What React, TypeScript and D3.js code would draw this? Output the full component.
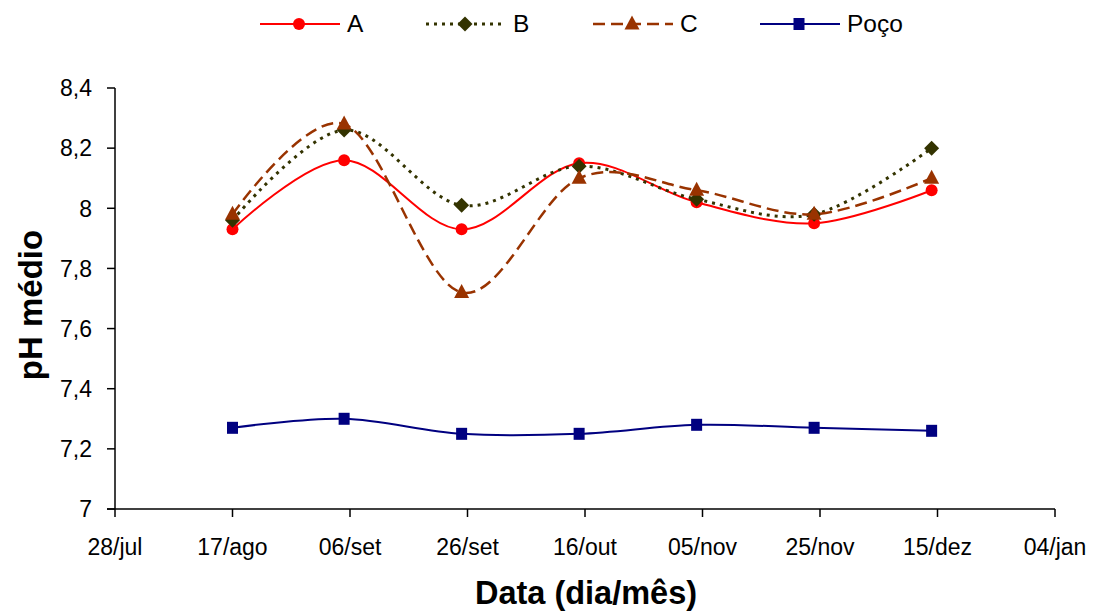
import React from "react";
import * as d3 from "d3";

const sampleDates = ["2008-08-17", "2008-09-05", "2008-09-25", "2008-10-15", "2008-11-04", "2008-11-24", "2008-12-14"];
const seriesA = [7.93, 8.16, 7.93, 8.15, 8.02, 7.95, 8.06];
const seriesB = [7.96, 8.26, 8.01, 8.14, 8.03, 7.98, 8.2];
const seriesC = [7.98, 8.28, 7.72, 8.1, 8.06, 7.98, 8.1];
const seriesPoco = [7.27, 7.3, 7.25, 7.25, 7.28, 7.27, 7.26];
const seriesNames = ["A", "B", "C", "Poço"];
const xTickDates = ["2008-07-28", "2008-08-17", "2008-09-06", "2008-09-26", "2008-10-16", "2008-11-05", "2008-11-25", "2008-12-15", "2009-01-04"];
const xTickLabels = ["28/jul", "17/ago", "06/set", "26/set", "16/out", "05/nov", "25/nov", "15/dez", "04/jan"];
const yTicks = [7, 7.2, 7.4, 7.6, 7.8, 8, 8.2, 8.4];

const W = 1093, H = 613;
const L = 115, R = 1055, T = 88, B = 509;
const FONT = "Liberation Sans, Arial, sans-serif";

const styles = [
  { color: "#FF0000", dash: "", marker: "circle", width: 2 },
  { color: "#333300", dash: "3,5", marker: "diamond", width: 3 },
  { color: "#993300", dash: "12,6", marker: "triangle", width: 2.5 },
  { color: "#000080", dash: "", marker: "square", width: 2 },
];

function Marker({ type, x, y, color }: { type: string; x: number; y: number; color: string }) {
  if (type === "circle") return <circle cx={x} cy={y} r={6} fill={color} />;
  if (type === "diamond") return <path d={`M${x},${y - 7.5}L${x + 7.5},${y}L${x},${y + 7.5}L${x - 7.5},${y}Z`} fill={color} />;
  if (type === "triangle") return <path d={`M${x},${y - 8.5}L${x + 7.5},${y + 5.5}L${x - 7.5},${y + 5.5}Z`} fill={color} />;
  return <rect x={x - 5.5} y={y - 6} width={11} height={12} fill={color} />;
}

export default function App() {
  const parse = (s: string) => new Date(s + "T00:00:00Z");
  const x = d3.scaleUtc().domain([parse(xTickDates[0]), parse(xTickDates[xTickDates.length - 1])]).range([L, R]);
  const y = d3.scaleLinear().domain([7, 8.4]).range([B, T]);
  const all = [seriesA, seriesB, seriesC, seriesPoco];
  const line = d3
    .line<[Date, number]>()
    .x((d) => x(d[0]))
    .y((d) => y(d[1]))
    .curve(d3.curveCardinal.tension(0));

  const legendX = [260, 426, 593, 760];
  const legendY = 24;

  return (
    <svg width={W} height={H} style={{ position: "absolute", left: 0, top: 0, background: "#fff" }} fontFamily={FONT}>
      <rect x={0} y={0} width={W} height={H} fill="#fff" />
      {/* axes */}
      <line x1={L} y1={T} x2={L} y2={B} stroke="#000" strokeWidth={1.5} />
      <line x1={L - 8} y1={B} x2={R} y2={B} stroke="#000" strokeWidth={1.5} />
      {yTicks.map((t) => (
        <g key={t}>
          <line x1={L - 8} x2={L} y1={y(t)} y2={y(t)} stroke="#000" strokeWidth={1.5} />
          <text x={L - 23} y={y(t) + 8.3} textAnchor="end" fontSize={23}>
            {String(t).replace(".", ",")}
          </text>
        </g>
      ))}
      {xTickDates.map((d, i) => (
        <g key={d}>
          <line x1={x(parse(d))} x2={x(parse(d))} y1={B} y2={B + 8} stroke="#000" strokeWidth={1.5} />
          <text x={x(parse(d))} y={555} textAnchor="middle" fontSize={23}>
            {xTickLabels[i]}
          </text>
        </g>
      ))}
      <text x={586} y={604} textAnchor="middle" fontSize={32.5} fontWeight="bold">
        Data (dia/mês)
      </text>
      <text transform={`translate(42,305) rotate(-90)`} textAnchor="middle" fontSize={33} fontWeight="bold">
        pH médio
      </text>
      {/* series */}
      {all.map((s, i) => {
        const pts: [Date, number][] = sampleDates.map((d, j) => [parse(d), s[j]]);
        return (
          <g key={i}>
            <path d={line(pts) || ""} fill="none" stroke={styles[i].color} strokeWidth={styles[i].width} strokeDasharray={styles[i].dash} />
            {pts.map((p, j) => (
              <Marker key={j} type={styles[i].marker} x={x(p[0])} y={y(p[1])} color={styles[i].color} />
            ))}
          </g>
        );
      })}
      {/* legend */}
      {seriesNames.map((n, i) => (
        <g key={n}>
          <line x1={legendX[i]} x2={legendX[i] + 80} y1={legendY} y2={legendY} stroke={styles[i].color} strokeWidth={styles[i].width} strokeDasharray={styles[i].dash} />
          <Marker type={styles[i].marker} x={legendX[i] + 39} y={legendY} color={styles[i].color} />
          <text x={legendX[i] + 87} y={legendY + 8} fontSize={24.5}>
            {n}
          </text>
        </g>
      ))}
    </svg>
  );
}
